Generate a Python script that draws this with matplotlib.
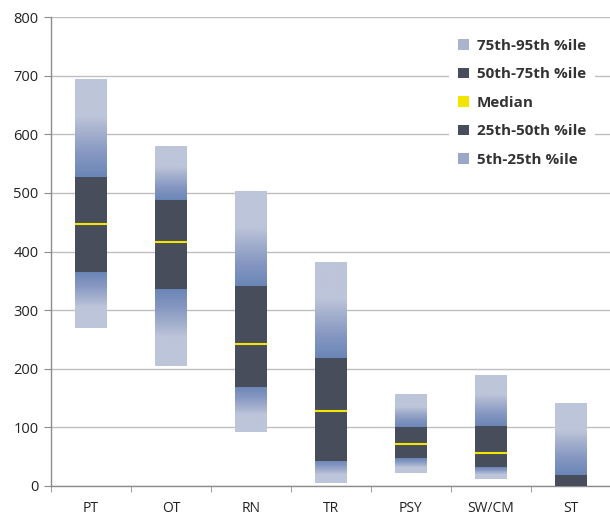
import numpy as np
import matplotlib
matplotlib.use("Agg")
import matplotlib.pyplot as plt
from matplotlib.colors import LinearSegmentedColormap
from matplotlib.patches import Patch

categories = ["PT", "OT", "RN", "TR", "PSY", "SW/CM", "ST"]
p5 = [270, 205, 92, 5, 23, 12, 0]
p25 = [365, 336, 169, 43, 48, 32, 0]
median = [447, 417, 242, 128, 72, 57, 0]
p75 = [528, 488, 341, 219, 100, 102, 19]
p95 = [694, 579, 502, 382, 155, 189, 141]

legend_labels = ["75th-95th %ile", "50th-75th %ile", "Median", "25th-50th %ile", "5th-25th %ile"]

DARK = "#474d5b"
BLUE = "#6a86b6"
LIGHT = "#bdc5da"
YELLOW = "#f2e600"
GRID = "#bfbfbf"
AX = "#8c8c8c"

plt.rcParams['font.family'] = ['Open Sans', 'DejaVu Sans']

fig = plt.figure(figsize=(6.10, 5.18), dpi=100)
ax = fig.add_axes([0.0836, 0.0618, 0.918, 0.905])

cmap = LinearSegmentedColormap.from_list(
    "fade", [(0.0, BLUE), (0.25, "#8798c2"), (0.5, "#aab5d0"), (0.62, LIGHT), (1.0, LIGHT)])

w = 0.4
grad = np.linspace(0, 1, 256).reshape(-1, 1)
for i in range(len(categories)):
    x0, x1 = i - w / 2, i + w / 2
    if p95[i] > p75[i]:
        ax.imshow(grad, cmap=cmap, origin="lower", aspect="auto",
                  extent=(x0, x1, p75[i], p95[i]), zorder=2, interpolation="bilinear")
    if p25[i] > p5[i]:
        ax.imshow(grad[::-1], cmap=cmap, origin="lower", aspect="auto",
                  extent=(x0, x1, p5[i], p25[i]), zorder=2, interpolation="bilinear")
    ax.bar(i, p75[i] - p25[i], bottom=p25[i], width=w, color=DARK, zorder=3, linewidth=0)
    if median[i] > 0:
        ax.plot([x0, x1], [median[i], median[i]], color=YELLOW, lw=1.5, zorder=4,
                solid_capstyle="butt")

ax.set_xlim(-0.5, len(categories) - 0.5)
ax.set_ylim(0, 800)
ax.set_yticks(np.arange(0, 801, 100))
ax.yaxis.grid(True, color=GRID, lw=1.0, zorder=0)
ax.set_axisbelow(True)

ax.set_xticks(range(len(categories)))
ax.set_xticklabels(categories)
ax.set_xticks(np.arange(-0.5, len(categories) - 0.5, 1), minor=True)
ax.tick_params(axis="x", which="major", length=0, pad=11, labelsize=10)
ax.tick_params(axis="x", which="minor", length=4, color=AX, direction="out")
ax.tick_params(axis="y", length=5, color=AX, labelsize=10.5, pad=4)
for lab in ax.get_yticklabels() + ax.get_xticklabels():
    lab.set_color("#222222")

for s in ["top", "right"]:
    ax.spines[s].set_visible(False)
for s in ["left", "bottom"]:
    ax.spines[s].set_color(AX)
    ax.spines[s].set_linewidth(1.0)

handles = [
    Patch(facecolor="#a9b4cf", edgecolor="none"),
    Patch(facecolor=DARK, edgecolor="none"),
    Patch(facecolor=YELLOW, edgecolor="none"),
    Patch(facecolor=DARK, edgecolor="none"),
    Patch(facecolor="#9aa7c8", edgecolor="none"),
]
leg = ax.legend(handles, legend_labels, loc="upper right", bbox_to_anchor=(0.985, 0.99),
                frameon=True, facecolor="white", edgecolor="none", framealpha=1.0,
                handlelength=0.7, handleheight=0.7, handletextpad=0.5, labelspacing=0.95,
                prop={"weight": "bold", "size": 11}, borderpad=0.6)
for t in leg.get_texts():
    t.set_color("#333333")

fig.savefig("out.png", dpi=100, facecolor="white")
